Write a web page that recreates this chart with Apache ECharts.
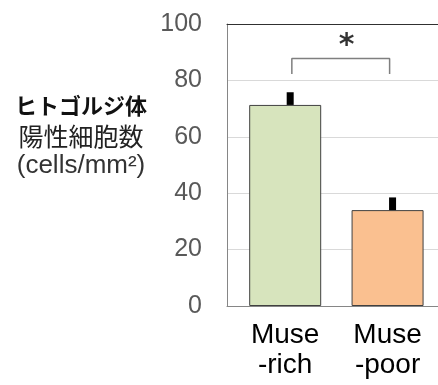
<!DOCTYPE html>
<html>
<head>
<meta charset="utf-8">
<script src="https://cdn.jsdelivr.net/npm/echarts@6/dist/echarts.min.js"></script>
<style>
  html, body { margin: 0; padding: 0; background: #fff; }
  #chart { width: 438px; height: 385px; }
</style>
</head>
<body>
<div id="chart"></div>
<script>
// Golgi-positive cell density, Muse-rich vs Muse-poor
const categories = ['Muse\n-rich', 'Muse\n-poor'];
const means = [71.3, 34.0];
const errTops = [75.8, 38.5];
const barColors = ['#d7e4bd', '#fac090'];
const yTicks = [0, 20, 40, 60, 80, 100];
// significance bracket between the two groups (x in group units, y in cells/mm²)
const bracketX = [0.065, 1.02];
const bracketY = [82.3, 87.8];
const starPos = [0.6, 92.0];

const chart = echarts.init(document.getElementById('chart'), null, { renderer: 'canvas' });

const gridTop = 24, gridBottom = 79;

chart.setOption({
  animation: false,
  backgroundColor: '#ffffff',
  title: {
    text: '{a|ヒトゴルジ体}\n{b|陽性細胞数}\n{c|(cells/mm²)}',
    left: 76,
    top: 86,
    textAlign: 'center',
    textStyle: {
      fontWeight: 'normal',
      rich: {
        a: { fontFamily: 'Noto Sans CJK JP', fontSize: 22, fontWeight: 'bold', color: '#111', lineHeight: 30 },
        b: { fontFamily: 'Noto Sans CJK JP', fontSize: 25, fontWeight: 'normal', color: '#222', lineHeight: 30 },
        c: { fontFamily: 'Liberation Sans', fontSize: 26, fontWeight: 'normal', color: '#333', lineHeight: 30 }
      }
    }
  },
  grid: [
    // frame: left axis, top and bottom rules (the right side runs off the page)
    { left: 227, right: 0, top: gridTop, bottom: gridBottom, outerBoundsMode: 'none' },
    { left: 234, right: -0.75, top: gridTop, bottom: gridBottom, outerBoundsMode: 'none' }
  ],
  xAxis: [
    {
      gridIndex: 0, type: 'value', min: 0, max: 1, position: 'top',
      axisLine: { show: true, onZero: false, lineStyle: { color: '#303030', width: 1 } },
      axisTick: { show: false }, axisLabel: { show: false }, splitLine: { show: false }
    },
    {
      gridIndex: 1, type: 'category', data: categories,
      axisLine: { show: false }, axisTick: { show: false },
      axisLabel: {
        margin: 14, fontFamily: 'Liberation Sans', fontSize: 28, lineHeight: 30, color: '#000', interval: 0
      }
    },
    { gridIndex: 1, type: 'value', show: false, min: -0.5, max: 1.5 },
    {
      gridIndex: 0, type: 'value', min: 0, max: 1, position: 'bottom',
      axisLine: { show: true, onZero: false, lineStyle: { color: '#868686', width: 1 } },
      axisTick: { show: false }, axisLabel: { show: false }, splitLine: { show: false }
    }
  ],
  yAxis: [
    {
      gridIndex: 0, type: 'value', min: 0, max: 100, interval: 20,
      axisLine: { show: true, lineStyle: { color: '#868686', width: 1 } },
      axisTick: { show: false },
      splitLine: { show: true, lineStyle: { color: '#d9d9d9', width: 1 } },
      axisLabel: {
        margin: 25, fontFamily: 'Liberation Sans', fontSize: 25, color: '#595959',
        formatter: v => (yTicks.indexOf(v) >= 0 ? String(v) : '')
      }
    },
    { gridIndex: 1, type: 'value', min: 0, max: 100, show: false }
  ],
  series: [
    {
      type: 'bar',
      xAxisIndex: 1, yAxisIndex: 1,
      barWidth: 72,
      data: means.map((v, i) => ({
        value: v,
        itemStyle: { color: barColors[i], borderColor: '#404040', borderWidth: 1 }
      })),
      z: 2
    },
    {
      type: 'custom',
      xAxisIndex: 1, yAxisIndex: 1,
      data: means.map((v, i) => [i, v, errTops[i]]),
      renderItem: function (params, api) {
        const lo = api.coord([api.value(0), api.value(1)]);
        const hi = api.coord([api.value(0), api.value(2)]);
        return {
          type: 'rect',
          shape: { x: lo[0] + 5 - 3.5, y: hi[1], width: 7, height: lo[1] - hi[1] },
          style: { fill: '#000' }
        };
      },
      z: 3
    },
    {
      type: 'line',
      xAxisIndex: 2, yAxisIndex: 1,
      symbol: 'none',
      lineStyle: { color: '#7f7f7f', width: 1.5 },
      data: [
        [bracketX[0], bracketY[0]],
        [bracketX[0], bracketY[1]],
        [bracketX[1], bracketY[1]],
        [bracketX[1], bracketY[0]]
      ],
      z: 3
    },
    {
      type: 'scatter',
      xAxisIndex: 2, yAxisIndex: 1,
      symbolSize: 0,
      data: [starPos],
      label: {
        show: true, position: 'inside', formatter: '*',
        fontFamily: 'DejaVu Sans', fontSize: 30, fontWeight: 'bold', color: '#000'
      },
      z: 4
    }
  ]
});
</script>
</body>
</html>
